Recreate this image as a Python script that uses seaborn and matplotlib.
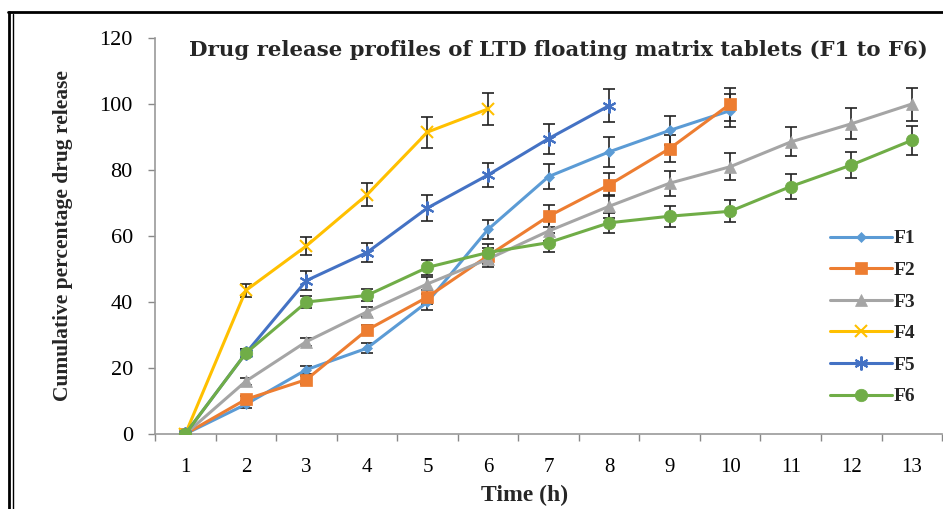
import numpy as np
import pandas as pd
import matplotlib
matplotlib.use("Agg")
import matplotlib.pyplot as plt
from matplotlib.lines import Line2D
import seaborn as sns

time_h = list(range(1, 14))
series_names = ["F1", "F2", "F3", "F4", "F5", "F6"]

f1 = [0, 9.0, 19.5, 26.0, 40.0, 62.0, 78.0, 85.5, 92.0, 98.0]
f2 = [0, 10.5, 16.5, 31.5, 41.5, 54.0, 66.0, 75.5, 86.5, 100.0]
f3 = [0, 16.0, 28.0, 37.0, 45.5, 53.0, 61.5, 69.0, 76.0, 81.0, 88.5, 94.0, 100.0]
f4 = [0, 43.5, 57.0, 72.5, 91.5, 98.5]
f5 = [0, 24.5, 46.5, 55.0, 68.5, 78.5, 89.5, 99.5]
f6 = [0, 24.5, 40.0, 42.0, 50.5, 55.0, 58.0, 64.0, 66.0, 67.5, 75.0, 81.5, 89.0]

f1_sd = [0, 1.0, 1.2, 1.5, 2.5, 3.0, 3.9, 4.5, 4.5, 5.0]
f2_sd = [0, 1.0, 1.2, 1.5, 2.0, 2.5, 3.3, 3.5, 4.0, 5.0]
f3_sd = [0, 1.0, 1.2, 1.5, 2.0, 2.5, 3.0, 3.5, 3.8, 4.1, 4.4, 4.7, 5.0]
f4_sd = [0, 2.1, 2.8, 3.5, 4.7, 4.8]
f5_sd = [0, 1.2, 2.9, 3.0, 3.8, 3.5, 4.5, 5.0]
f6_sd = [0, 1.2, 1.8, 1.8, 2.2, 2.5, 2.8, 3.0, 3.2, 3.3, 3.8, 4.0, 4.4]

values = [f1, f2, f3, f4, f5, f6]
sds = [f1_sd, f2_sd, f3_sd, f4_sd, f5_sd, f6_sd]

colors = ["#5B9BD5", "#ED7D31", "#A5A5A5", "#FFC000", "#4472C4", "#70AD47"]
markers = ["D", "s", "^", "x", (6, 2, 0), "o"]
msizes = [5, 8, 8, 9, 10, 9]

rows = []
for name, v, s in zip(series_names, values, sds):
    for t, y, e in zip(time_h, v, s):
        rows.append({"Time": t, "Release": y, "SD": e, "Formulation": name})
df = pd.DataFrame(rows)

sns.set_theme(style="white")
plt.rcParams["font.family"] = ["Liberation Serif", "DejaVu Serif"]

fig = plt.figure(figsize=(9.43, 5.09), dpi=100)
ax = fig.add_axes([0.1644, 0.1473, 0.8346, 0.778])

for name, col, mk, ms in zip(series_names, colors, markers, msizes):
    sub = df[df["Formulation"] == name]
    ax.errorbar(sub["Time"], sub["Release"], yerr=sub["SD"], fmt="none",
                ecolor="#222222", elinewidth=1.2, capsize=4.5, capthick=1.2, zorder=2)
    sns.lineplot(data=sub, x="Time", y="Release", ax=ax, color=col,
                 marker=mk, markersize=ms, linewidth=2.2, markeredgecolor=col,
                 markeredgewidth=1.5 if mk in ("x", (6, 2, 0)) else 0.5,
                 label=name, zorder=3, errorbar=None)

ax.set_xlim(0.5, 13.5)
ax.set_ylim(0, 120)
ax.set_yticks(range(0, 121, 20))
ax.set_xticks(time_h)
ax.set_xticks(np.arange(0.5, 14, 1), minor=True)
ax.tick_params(axis="x", which="major", length=0, labelsize=15, pad=17, labelcolor="black")
ax.tick_params(axis="x", which="minor", length=5, width=1, color="#888888", direction="out", bottom=True)
ax.tick_params(axis="y", which="major", length=5, width=1, color="#888888", direction="out", left=True,
               labelsize=16, pad=11, labelcolor="black")
for side in ["top", "right"]:
    ax.spines[side].set_visible(False)
for side in ["left", "bottom"]:
    ax.spines[side].set_color("#999999")
    ax.spines[side].set_linewidth(1.2)
ax.grid(False)

ax.set_xlabel("Time (h)", fontsize=17, fontweight="bold")
ax.xaxis.set_label_coords(0.47, -0.128)
ax.xaxis.label.set_va("top")
ax.set_ylabel("Cumulative percentage drug release", fontsize=15.5, fontweight="bold", labelpad=19)
ax.text(0.513, 0.995, "Drug release profiles of LTD floating matrix tablets (F1 to F6)",
        transform=ax.transAxes, ha="center", va="top", fontsize=15.3,
        fontweight="bold", family=["DejaVu Serif"])

leg = ax.legend(loc="upper left", bbox_to_anchor=(0.835, 0.56), frameon=False,
                handlelength=3.2, labelspacing=0.72, handletextpad=0.1,
                prop={"weight": "bold", "size": 14})

# outer frame
fig.add_artist(Line2D([8/943, 1.0], [1 - 12/509, 1 - 12/509], color="black", lw=2, transform=fig.transFigure))
fig.add_artist(Line2D([9/943, 9/943], [0, 1 - 12/509], color="black", lw=2, transform=fig.transFigure))
fig.add_artist(Line2D([12.5/943, 12.5/943], [0, 1 - 14/509], color="black", lw=1, transform=fig.transFigure))

fig.savefig("out.png", dpi=100)
